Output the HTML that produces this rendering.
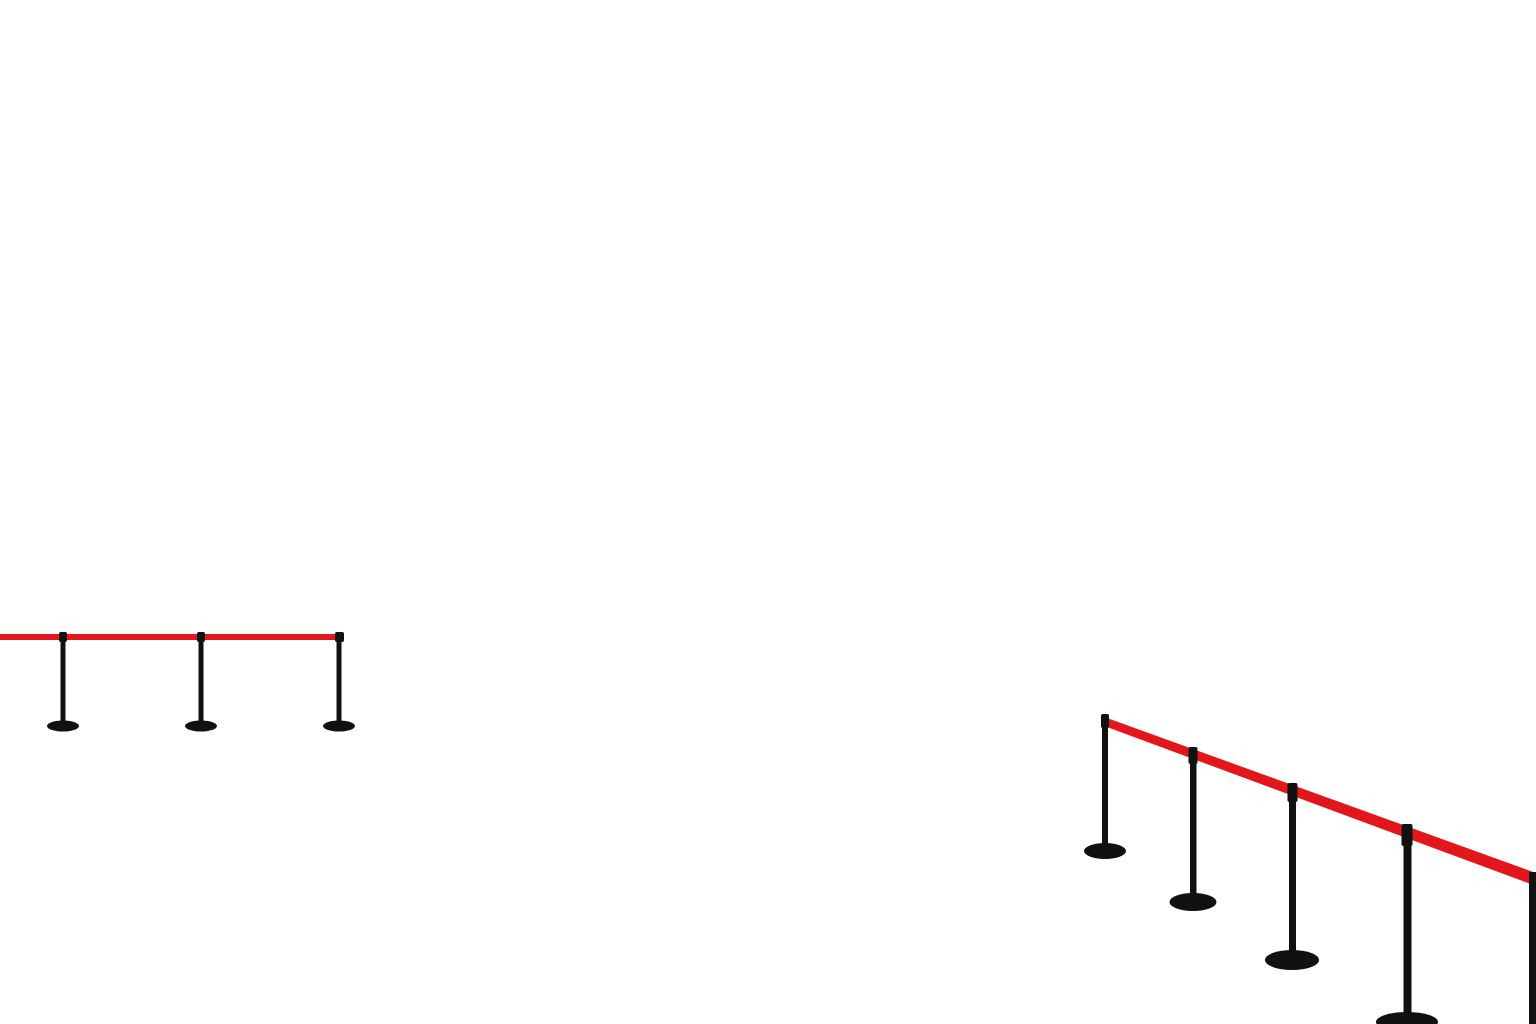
<!DOCTYPE html>
<html><head><meta charset="utf-8"><style>html,body{margin:0;padding:0;background:#fff;}svg{display:block}</style></head>
<body>
<svg width="1536" height="1024" viewBox="0 0 1536 1024" xmlns="http://www.w3.org/2000/svg">
<rect width="1536" height="1024" fill="#fff"/>
<!-- left group -->
<rect x="0" y="634" width="340" height="6" fill="#e3161b"/>
<g fill="#111">
<rect x="60.5" y="633" width="5" height="91"/><rect x="59" y="632" width="8" height="10" rx="2"/><ellipse cx="63" cy="726" rx="16" ry="5.5"/>
<rect x="198.5" y="633" width="5" height="91"/><rect x="197" y="632" width="8" height="10" rx="2"/><ellipse cx="201" cy="726" rx="16" ry="5.5"/>
<rect x="336.5" y="633" width="5" height="91"/><rect x="335" y="632" width="9" height="10" rx="2"/><ellipse cx="339" cy="726" rx="16" ry="5.5"/>
</g>
<!-- right group -->
<polygon points="1107,718 1536,873 1536,886 1107,727" fill="#e3161b"/>
<g fill="#111">
<rect x="1102" y="716" width="6" height="132"/><rect x="1101" y="714" width="8" height="14" rx="2"/><ellipse cx="1105" cy="851" rx="21" ry="8"/>
<rect x="1190" y="749" width="6.5" height="150"/><rect x="1188.5" y="747" width="9" height="17" rx="2"/><ellipse cx="1193" cy="902" rx="23.5" ry="9"/>
<rect x="1289" y="785" width="7" height="172"/><rect x="1287.5" y="783" width="10" height="19" rx="2"/><ellipse cx="1292" cy="960" rx="27" ry="10"/>
<rect x="1403.5" y="826" width="8" height="196"/><rect x="1401.5" y="824" width="11" height="22" rx="2"/><ellipse cx="1407" cy="1022" rx="31" ry="10"/>
<rect x="1529" y="872" width="7" height="152"/>
</g>
</svg>
</body></html>
